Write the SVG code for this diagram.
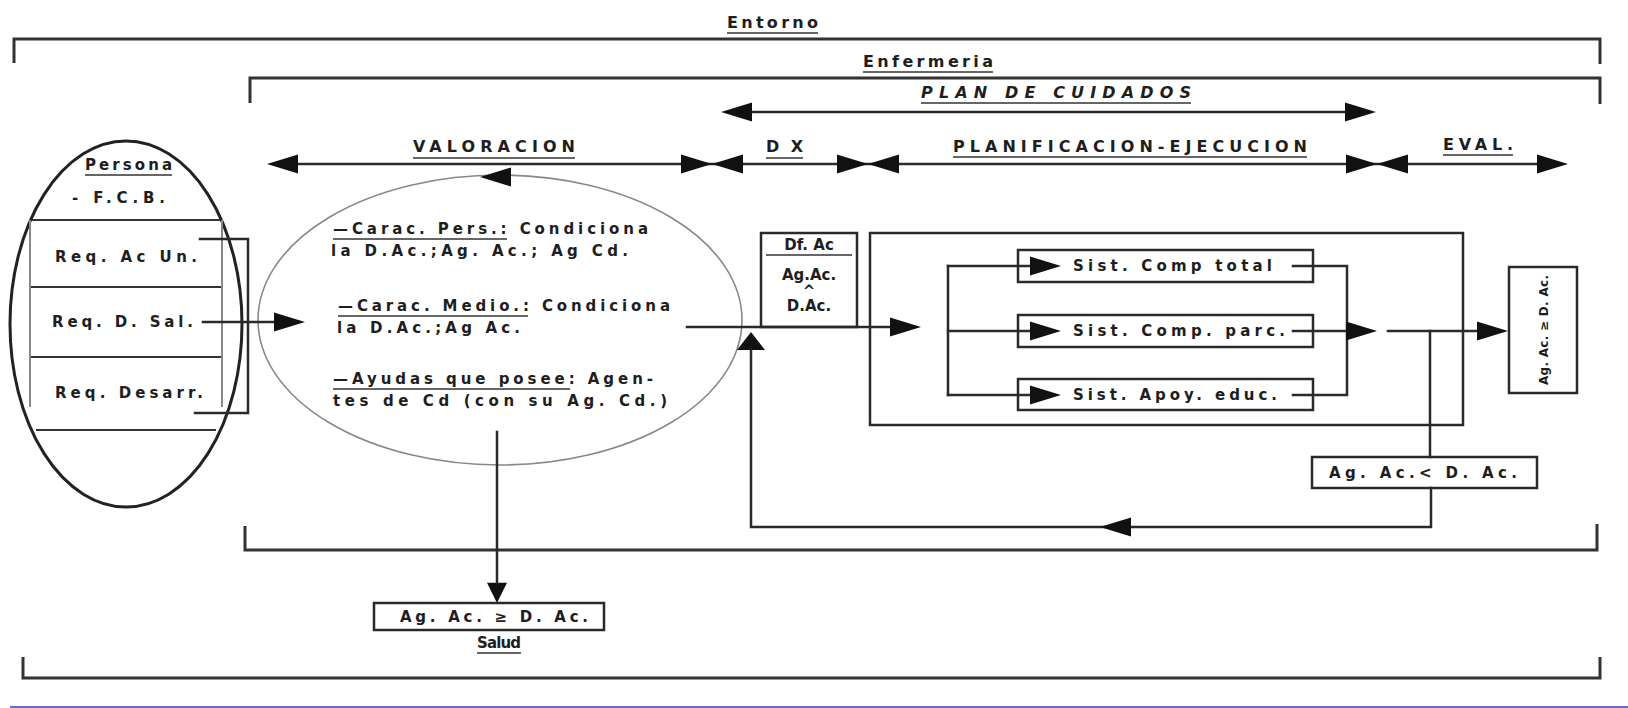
<svg xmlns="http://www.w3.org/2000/svg" xmlns:xlink="http://www.w3.org/1999/xlink" width="1628" height="708" viewBox="0 0 1628 708">
<style>
  .ln{fill:none;stroke:#2a2a2a;stroke-width:2.5;stroke-linecap:square}
  .br{fill:none;stroke:#333;stroke-width:3}
  .thin{fill:none;stroke:#333;stroke-width:2}
  .box{fill:#fff;stroke:#2a2a2a;stroke-width:2.5}
  .ul{stroke:#666;stroke-width:2}
  .t{font-family:"DejaVu Sans","Liberation Sans",sans-serif;font-weight:bold;fill:#1e1e1e;font-size:15px}
  .h{font-size:16px}
  .c{text-anchor:middle}
  .ah{fill:#111}
</style>
<defs>
  <path id="ah" d="M0 0 L-31 -9.5 L-31 9.5 Z"/>
  <path id="ahs" d="M0 0 L-18 -14 L-18 14 Z"/>
</defs>
<rect width="1628" height="708" fill="#fff"/>

<g id="entorno">
  <path class="br" d="M14,63 V39 H1600 V64"/>
  <path class="br" d="M23,657 V678 H1600 V657"/>
  <text class="t h" x="727" y="28" textLength="91" lengthAdjust="spacing">Entorno</text>
  <line class="ul" x1="727" y1="33" x2="818" y2="33"/>
</g>

<g id="enfermeria">
  <path class="br" d="M250,103 V78 H1600 V104"/>
  <path class="br" d="M245,526 V550 H1597 V524"/>
  <text class="t h" x="863" y="67" textLength="130" lengthAdjust="spacing">Enfermeria</text>
  <line class="ul" x1="863" y1="72" x2="993" y2="72"/>
</g>

<g id="plan">
  <text class="t h" x="921" y="98" font-style="italic" textLength="270" lengthAdjust="spacing">PLAN DE CUIDADOS</text>
  <line class="ul" x1="921" y1="103" x2="1191" y2="103"/>
</g>

<g id="fases">
  <text class="t h" x="413" y="152" textLength="162" lengthAdjust="spacing">VALORACION</text>
  <line class="ul" x1="413" y1="158" x2="575" y2="158"/>
  <text class="t h" x="766" y="152" textLength="37" lengthAdjust="spacing">DX</text>
  <line class="ul" x1="766" y1="158" x2="803" y2="158"/>
  <text class="t h" x="953" y="152" textLength="354" lengthAdjust="spacing">PLANIFICACION-EJECUCION</text>
  <line class="ul" x1="953" y1="157" x2="1307" y2="157"/>
  <text class="t h" x="1443" y="150" textLength="70" lengthAdjust="spacing">EVAL.</text>
  <line class="ul" x1="1443" y1="155" x2="1513" y2="155"/>
</g>

<g id="persona">
  <ellipse cx="126" cy="324" rx="116" ry="183" fill="none" stroke="#222" stroke-width="3"/>
  <line class="thin" x1="32" y1="220" x2="220" y2="220"/>
  <line class="thin" x1="30" y1="287" x2="222" y2="287"/>
  <line class="thin" x1="30" y1="357" x2="222" y2="357"/>
  <line class="thin" x1="36" y1="430" x2="216" y2="430"/>
  <line x1="30" y1="220" x2="30" y2="407" stroke="#888" stroke-width="2"/>
  <line x1="222" y1="220" x2="222" y2="407" stroke="#888" stroke-width="2"/>
  <text class="t" x="85" y="170" textLength="87" lengthAdjust="spacing">Persona</text>
  <line class="ul" x1="85" y1="175" x2="172" y2="175"/>
  <text class="t" x="72" y="203" textLength="93" lengthAdjust="spacing">- F.C.B.</text>
  <text class="t" x="55" y="262" textLength="142" lengthAdjust="spacing">Req. Ac Un.</text>
  <text class="t" x="52" y="327" textLength="141" lengthAdjust="spacing">Req. D. Sal.</text>
  <text class="t" x="55" y="398" textLength="148" lengthAdjust="spacing">Req. Desarr.</text>
</g>

<g id="valoracion">
  <ellipse cx="500" cy="320" rx="242" ry="145" fill="none" stroke="#888" stroke-width="1.6"/>
  <text class="t" x="333" y="234" textLength="315" lengthAdjust="spacing">—Carac. Pers.: Condiciona</text>
  <line class="ul" x1="333" y1="239" x2="507" y2="239"/>
  <text class="t" x="331" y="256" textLength="297" lengthAdjust="spacing">la D.Ac.;Ag. Ac.; Ag Cd.</text>
  <text class="t" x="338" y="311" textLength="332" lengthAdjust="spacing">—Carac. Medio.: Condiciona</text>
  <line class="ul" x1="338" y1="316" x2="528" y2="316"/>
  <text class="t" x="337" y="333" textLength="183" lengthAdjust="spacing">la D.Ac.;Ag Ac.</text>
  <text class="t" x="333" y="384" textLength="320" lengthAdjust="spacing">—Ayudas que posee: Agen-</text>
  <line class="ul" x1="333" y1="389" x2="570" y2="389"/>
  <text class="t" x="333" y="406" textLength="334" lengthAdjust="spacing">tes de Cd (con su Ag. Cd.)</text>
</g>

<g id="dfac">
  <rect class="box" x="761" y="233" width="96" height="94"/>
  <text class="t c" x="809" y="250">Df. Ac</text>
  <line class="ul" x1="766" y1="255" x2="852" y2="255"/>
  <text class="t c" x="809" y="280">Ag.Ac.</text>
  <text class="t c" x="809" y="296">^</text>
  <text class="t c" x="809" y="311">D.Ac.</text>
</g>

<g id="planificacion">
  <rect class="box" x="870" y="233" width="593" height="192" style="fill:none"/>
</g>
<g id="sist1">
  <rect class="box" x="1018" y="250" width="295" height="32"/>
  <text class="t" x="1073" y="271" textLength="199" lengthAdjust="spacing">Sist. Comp total</text>
</g>
<g id="sist2">
  <rect class="box" x="1018" y="315" width="295" height="32"/>
  <text class="t" x="1073" y="336" textLength="212" lengthAdjust="spacing">Sist. Comp. parc.</text>
</g>
<g id="sist3">
  <rect class="box" x="1018" y="379" width="295" height="31"/>
  <text class="t" x="1073" y="400" textLength="204" lengthAdjust="spacing">Sist. Apoy. educ.</text>
</g>

<g id="menor">
  <rect class="box" x="1312" y="457" width="225" height="31"/>
  <text class="t" x="1329" y="478" textLength="188" lengthAdjust="spacing">Ag. Ac.&lt; D. Ac.</text>
</g>

<g id="eval">
  <rect class="box" x="1509" y="267" width="68" height="126"/>
  <text class="t c" style="font-size:12px" transform="translate(1548,330) rotate(-90)" x="0" y="0" textLength="110" lengthAdjust="spacing">Ag. Ac. ≥ D. Ac.</text>
</g>

<g id="salud">
  <rect class="box" x="374" y="603" width="230" height="27"/>
  <text class="t" x="400" y="622" textLength="188" lengthAdjust="spacing">Ag. Ac. ≥ D. Ac.</text>
  <text class="t" x="477" y="648" textLength="44" lengthAdjust="spacing">Salud</text>
  <line class="ul" x1="477" y1="653" x2="521" y2="653"/>
</g>

<g id="connectors">
  <line class="ln" x1="730" y1="112" x2="1366" y2="112"/>
  <use href="#ah" class="ah" transform="translate(721,112) rotate(180)"/>
  <use href="#ah" class="ah" transform="translate(1376,112)"/>
  <line class="ln" x1="275" y1="164" x2="1560" y2="164"/>
  <use href="#ah" class="ah" transform="translate(267,164) rotate(180)"/>
  <use href="#ah" class="ah" transform="translate(712,164)"/>
  <use href="#ah" class="ah" transform="translate(712,164) rotate(180)"/>
  <use href="#ah" class="ah" transform="translate(868,164)"/>
  <use href="#ah" class="ah" transform="translate(868,164) rotate(180)"/>
  <use href="#ah" class="ah" transform="translate(1377,164)"/>
  <use href="#ah" class="ah" transform="translate(1377,164) rotate(180)"/>
  <use href="#ah" class="ah" transform="translate(1568,164)"/>
  <use href="#ah" class="ah" transform="translate(480,177) rotate(180)"/>
  <path class="ln" d="M200,239 H248 V413 H195"/>
  <line class="ln" x1="203" y1="322" x2="290" y2="322"/>
  <use href="#ah" class="ah" transform="translate(305,322)"/>
  <line class="ln" x1="687" y1="327" x2="905" y2="327"/>
  <use href="#ah" class="ah" transform="translate(921,327)"/>
  <path class="ln" d="M948,266 V395"/>
  <line class="ln" x1="948" y1="266" x2="1040" y2="266"/>
  <line class="ln" x1="948" y1="331" x2="1040" y2="331"/>
  <line class="ln" x1="948" y1="395" x2="1040" y2="395"/>
  <use href="#ah" class="ah" transform="translate(1061,266)"/>
  <use href="#ah" class="ah" transform="translate(1061,331)"/>
  <use href="#ah" class="ah" transform="translate(1061,395)"/>
  <path class="ln" d="M1293,266 H1347 V395 H1293"/>
  <line class="ln" x1="1293" y1="331" x2="1360" y2="331"/>
  <use href="#ah" class="ah" transform="translate(1377,331)"/>
  <line class="ln" x1="1388" y1="331" x2="1490" y2="331"/>
  <use href="#ah" class="ah" transform="translate(1508,331)"/>
  <line class="ln" x1="1430" y1="331" x2="1430" y2="457"/>
  <path class="ln" d="M1431,488 V527 H751 V345"/>
  <use href="#ah" class="ah" transform="translate(1100,527) rotate(180)"/>
  <use href="#ahs" class="ah" transform="translate(751,332) rotate(-90)"/>
  <line class="ln" x1="497" y1="432" x2="497" y2="590"/>
  <use href="#ah" class="ah" transform="translate(497,603) rotate(90) scale(0.65,1.05)"/>
</g>

<line x1="10" y1="707" x2="1628" y2="707" stroke="#6b6bd6" stroke-width="2"/>
</svg>
